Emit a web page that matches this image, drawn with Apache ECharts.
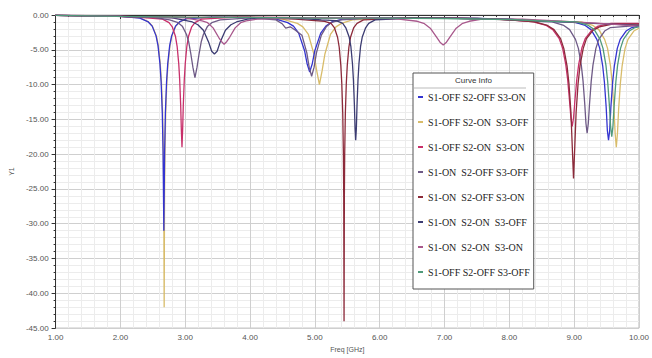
<!DOCTYPE html>
<html>
<head>
<meta charset="utf-8">
<script src="https://cdn.jsdelivr.net/npm/echarts@6/dist/echarts.min.js"></script>
<style>
  html, body { margin: 0; padding: 0; background: #fff; }
  #chart { width: 652px; height: 358px; }
</style>
</head>
<body>
<div id="chart"></div>
<script>
// curve names, in legend order
var curveNames = [
  'S1-OFF S2-OFF S3-ON',
  'S1-OFF S2-ON  S3-OFF',
  'S1-OFF S2-ON  S3-ON',
  'S1-ON  S2-OFF S3-OFF',
  'S1-ON  S2-OFF S3-ON',
  'S1-ON  S2-ON  S3-OFF',
  'S1-ON  S2-ON  S3-ON',
  'S1-OFF S2-OFF S3-OFF'
];
var curveColors = ['#3434d0', '#d8bc6a', '#c8306a', '#6e5a86', '#8c2a3a', '#3c3c72', '#a8588c', '#4f9a7a'];

// [freq GHz, dB]
var curveA = [[1.0,-0.05],[1.5,-0.1],[2.0,-0.2],[2.3,-0.45],[2.43,-1.0],[2.49,-1.6],[2.55,-3.0],[2.58,-4.4],[2.61,-7.0],[2.628,-9.6],[2.646,-14],[2.658,-19.7],[2.67,-31],[2.682,-19.7],[2.694,-14],[2.712,-9.6],[2.73,-7],[2.76,-4.4],[2.79,-3],[2.85,-1.6],[2.91,-1.0],[3.03,-0.5],[3.4,-0.3],[4.0,-0.35],[4.4,-0.6],[4.58,-1.1],[4.67,-1.6],[4.75,-2.6],[4.84,-5.1],[4.88,-7.0],[4.92,-8.2],[4.96,-7.0],[5.0,-5.1],[5.09,-2.6],[5.17,-1.6],[5.26,-1.0],[5.43,-0.6],[5.8,-0.4],[6.5,-0.4],[7.5,-0.5],[8.0,-0.6],[8.5,-0.9],[8.99,-1.0],[9.17,-1.5],[9.26,-2.1],[9.35,-3.5],[9.395,-4.8],[9.44,-7.3],[9.467,-9.7],[9.494,-13.3],[9.512,-16.6],[9.53,-18],[9.548,-16.6],[9.566,-13.3],[9.593,-9.7],[9.62,-7.3],[9.665,-4.8],[9.71,-3.5],[9.8,-2.3],[9.89,-1.8],[10,-1.6]];
var curveB = [[1.0,-0.05],[1.5,-0.1],[2.0,-0.2],[2.3,-0.4],[2.435,-1.0],[2.495,-1.6],[2.555,-3.0],[2.585,-4.4],[2.615,-7.0],[2.633,-9.6],[2.651,-14],[2.663,-20],[2.669,-26],[2.675,-42],[2.681,-26],[2.687,-20],[2.699,-14],[2.717,-9.6],[2.735,-7],[2.765,-4.4],[2.795,-3],[2.855,-1.6],[2.915,-1.0],[3.035,-0.5],[3.5,-0.3],[4.0,-0.35],[4.5,-0.6],[4.73,-1.2],[4.815,-1.7],[4.9,-2.8],[4.985,-5.6],[5.028,-8.0],[5.07,-10],[5.112,-8.0],[5.155,-5.6],[5.24,-2.8],[5.325,-1.7],[5.41,-1.2],[5.58,-0.7],[6.2,-0.4],[7.0,-0.45],[8.0,-0.6],[8.6,-0.9],[9.11,-1.0],[9.29,-1.5],[9.38,-2.1],[9.47,-3.5],[9.515,-4.8],[9.56,-7.3],[9.587,-9.8],[9.614,-13.5],[9.632,-17],[9.65,-19],[9.668,-17],[9.686,-13.5],[9.713,-9.8],[9.74,-7.3],[9.785,-4.8],[9.83,-3.5],[9.92,-2.3],[10,-1.9]];
var curveC = [[1.0,-0.05],[1.6,-0.1],[2.2,-0.25],[2.55,-0.5],[2.65,-0.6],[2.75,-1.1],[2.8,-1.7],[2.85,-3.1],[2.875,-4.5],[2.9,-7],[2.915,-9.4],[2.93,-13],[2.94,-16.5],[2.95,-19],[2.96,-16.5],[2.97,-13],[2.985,-9.4],[3.0,-7],[3.025,-4.5],[3.05,-3.1],[3.1,-1.7],[3.15,-1.1],[3.25,-0.6],[3.8,-0.3],[4.5,-0.35],[5.2,-0.4],[6.0,-0.4],[7.0,-0.45],[7.8,-0.6],[8.3,-0.9],[8.37,-1.0],[8.57,-1.5],[8.67,-2.1],[8.77,-3.4],[8.82,-4.7],[8.87,-7.1],[8.9,-9.3],[8.93,-12.5],[8.95,-14.8],[8.97,-16],[8.99,-14.8],[9.01,-12.5],[9.04,-9.3],[9.07,-7.1],[9.12,-4.7],[9.17,-3.4],[9.27,-2.2],[9.37,-1.6],[9.57,-1.2],[10,-1.2]];
var curveD = [[1.0,-0.05],[1.8,-0.15],[2.5,-0.35],[2.76,-0.7],[2.89,-1.1],[2.955,-1.6],[3.02,-2.8],[3.052,-3.8],[3.085,-5.5],[3.118,-7.5],[3.15,-9],[3.182,-7.5],[3.215,-5.5],[3.248,-3.8],[3.28,-2.8],[3.345,-1.6],[3.41,-1.1],[3.54,-0.7],[4.0,-0.4],[4.4,-0.7],[4.5,-1.3],[4.55,-1.9],[4.62,-1.7],[4.7,-2.2],[4.8,-2.9],[4.875,-5.4],[4.912,-7.5],[4.95,-8.8],[4.988,-7.5],[5.025,-5.4],[5.1,-2.9],[5.175,-1.7],[5.25,-1.1],[5.4,-0.7],[6.0,-0.4],[7.0,-0.45],[7.8,-0.6],[8.4,-0.9],[8.66,-1.0],[8.84,-1.5],[8.93,-2.1],[9.02,-3.5],[9.065,-4.8],[9.11,-7.2],[9.137,-9.5],[9.164,-12.9],[9.182,-15.6],[9.2,-17],[9.218,-15.6],[9.236,-12.9],[9.263,-9.5],[9.29,-7.2],[9.335,-4.8],[9.38,-3.5],[9.47,-2.3],[9.56,-1.8],[10,-1.5]];
var curveE = [[1.0,-0.05],[2.0,-0.2],[3.0,-0.3],[4.0,-0.35],[4.7,-0.6],[5.0,-0.8],[5.15,-0.9],[5.25,-1.2],[5.3,-1.8],[5.35,-3.2],[5.375,-4.6],[5.4,-7.2],[5.415,-9.8],[5.43,-14.2],[5.44,-20],[5.445,-26],[5.45,-44],[5.455,-26],[5.46,-20],[5.47,-14.2],[5.485,-9.8],[5.5,-7.2],[5.525,-4.6],[5.55,-3.2],[5.6,-1.8],[5.65,-1.2],[5.75,-0.7],[6.5,-0.4],[7.5,-0.5],[8.0,-0.7],[8.39,-1.0],[8.59,-1.5],[8.69,-2.1],[8.79,-3.4],[8.84,-4.8],[8.89,-7.3],[8.92,-9.9],[8.95,-14],[8.97,-18.8],[8.99,-23.5],[9.01,-18.8],[9.03,-14],[9.06,-9.9],[9.09,-7.3],[9.14,-4.8],[9.19,-3.4],[9.29,-2.2],[9.39,-1.7],[9.59,-1.3],[10,-1.3]];
var curveF = [[1.0,-0.05],[2.0,-0.2],[2.8,-0.4],[2.94,-0.65],[3.11,-1.0],[3.195,-1.4],[3.28,-2.2],[3.365,-4.0],[3.408,-5.2],[3.45,-5.6],[3.492,-5.2],[3.535,-4.0],[3.62,-2.2],[3.705,-1.4],[3.79,-1.0],[3.96,-0.6],[4.3,-0.4],[4.8,-0.5],[5.1,-0.7],[5.33,-0.8],[5.43,-1.2],[5.48,-1.9],[5.53,-3.2],[5.555,-4.5],[5.58,-7.0],[5.595,-9.4],[5.61,-13],[5.62,-16.3],[5.63,-18],[5.64,-16.3],[5.65,-13],[5.665,-9.4],[5.68,-7.0],[5.705,-4.5],[5.73,-3.2],[5.78,-1.9],[5.83,-1.2],[5.93,-0.7],[6.5,-0.45],[7.5,-0.5],[8.2,-0.7],[8.8,-1.0],[9.3,-1.2],[10,-1.5]];
var curveG = [[1.0,-0.05],[2.0,-0.2],[3.0,-0.4],[3.26,-0.85],[3.345,-1.1],[3.43,-1.85],[3.515,-3.2],[3.558,-3.8],[3.6,-4.2],[3.642,-3.8],[3.685,-3.2],[3.77,-1.85],[3.855,-1.1],[3.94,-0.85],[4.11,-0.6],[4.8,-0.4],[5.5,-0.4],[6.2,-0.5],[6.58,-0.9],[6.68,-1.2],[6.78,-1.9],[6.88,-3.2],[6.93,-3.9],[6.98,-4.3],[7.03,-3.9],[7.08,-3.2],[7.18,-1.9],[7.28,-1.2],[7.38,-0.9],[7.58,-0.6],[8.2,-0.6],[8.8,-0.9],[9.4,-1.2],[10,-1.6]];
var curveH = [[1.0,-0.05],[2.0,-0.2],[3.0,-0.3],[4.0,-0.35],[5.0,-0.45],[6.0,-0.45],[7.0,-0.5],[8.0,-0.65],[8.6,-0.9],[9.04,-1.0],[9.22,-1.5],[9.31,-2.1],[9.4,-3.5],[9.445,-4.8],[9.49,-7.2],[9.517,-9.6],[9.544,-13.1],[9.562,-16],[9.58,-17.5],[9.598,-16],[9.616,-13.1],[9.643,-9.6],[9.67,-7.2],[9.715,-4.8],[9.76,-3.5],[9.85,-2.3],[9.94,-1.8],[10,-1.7]];

var curves = [curveA, curveB, curveC, curveD, curveE, curveF, curveG, curveH];
// draw order: yellow under blue
var drawOrder = [1, 0, 2, 3, 4, 5, 6, 7];

var chart = echarts.init(document.getElementById('chart'), null, { renderer: 'svg' });

var series = drawOrder.map(function(i) {
  return {
    name: curveNames[i],
    type: 'line',
    data: curves[i],
    showSymbol: false,
    symbol: 'none',
    color: curveColors[i],
    lineStyle: { width: 1.3, color: curveColors[i] },
    emphasis: { disabled: true }
  };
});

chart.setOption({
  animation: false,
  backgroundColor: '#fff',
  grid: { left: 51, right: 8, top: 15, bottom: 19, show: true, borderColor: '#bbb', borderWidth: 1 },
  xAxis: {
    type: 'value',
    min: 1, max: 10, interval: 1,
    name: 'Freq [GHz]',
    nameLocation: 'middle',
    nameGap: 14,
    nameTextStyle: { fontSize: 7, color: '#555' },
    axisLine: { lineStyle: { color: '#333' } },
    axisTick: { show: true, length: 4, lineStyle: { color: '#333' } },
    minorTick: { show: true, splitNumber: 5, length: 2, lineStyle: { color: '#333' } },
    axisLabel: { fontSize: 8, color: '#555', margin: 5, formatter: function(v) { return v.toFixed(2); } },
    splitLine: { lineStyle: { color: '#cfcfcf' } },
    minorSplitLine: { show: true, lineStyle: { color: '#ececec' } }
  },
  yAxis: {
    type: 'value',
    min: -45, max: 0, interval: 5,
    name: 'Y1',
    nameLocation: 'middle',
    nameGap: 36,
    nameTextStyle: { fontSize: 7, color: '#555' },
    axisLine: { show: true, lineStyle: { color: '#333' } },
    axisTick: { show: true, length: 4, lineStyle: { color: '#333' } },
    minorTick: { show: true, splitNumber: 5, length: 2, lineStyle: { color: '#333' } },
    axisLabel: { fontSize: 8, color: '#555', margin: 7, formatter: function(v) { return v.toFixed(2); } },
    splitLine: { lineStyle: { color: '#cfcfcf' } },
    minorSplitLine: { show: true, lineStyle: { color: '#ececec' } }
  },
  legend: {
    data: curveNames,
    orient: 'vertical',
    left: 413,
    top: 73,
    padding: [19, 4, 12, 5],
    itemGap: 15,
    itemWidth: 5,
    itemHeight: 2,
    icon: 'rect',
    backgroundColor: '#fff',
    borderColor: '#555',
    borderWidth: 1,
    textStyle: { fontFamily: 'Liberation Serif', fontSize: 10, color: '#222' }
  },
  graphic: [
    { type: 'text', left: 455, top: 76, z: 100, style: { text: 'Curve Info', fontSize: 8, fill: '#333', fontFamily: 'Liberation Sans' } },
    { type: 'line', z: 100, shape: { x1: 414, y1: 88, x2: 526, y2: 88 }, style: { stroke: '#bbb', lineWidth: 1 } }
  ],
  series: series
});
</script>
</body>
</html>
